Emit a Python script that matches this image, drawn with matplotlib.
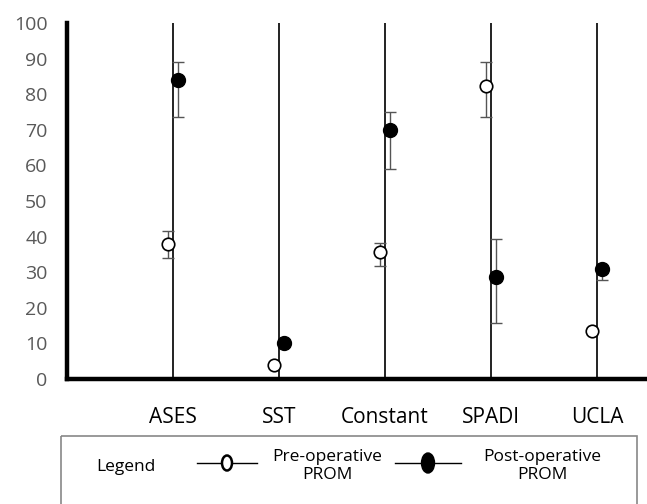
import matplotlib
matplotlib.use("Agg")

import numpy as np
import matplotlib.pyplot as plt
from matplotlib.patches import Rectangle, Ellipse

plt.rcParams["font.family"] = ["Open Sans", "DejaVu Sans"]

# scores
categories = ["ASES", "SST", "Constant", "SPADI", "UCLA"]
pre_mean = [37.8, 4.0, 35.8, 82.3, 13.6]
pre_low = [34.0, 4.0, 31.8, 73.5, 13.1]
pre_high = [41.6, 4.0, 38.3, 89.1, 14.1]
post_mean = [84.0, 10.2, 70.0, 28.7, 30.8]
post_low = [73.6, 10.2, 59.0, 15.8, 27.8]
post_high = [89.0, 10.2, 75.0, 39.3, 30.8]
y_ticks = [0, 10, 20, 30, 40, 50, 60, 70, 80, 90, 100]

fig = plt.figure(figsize=(6.47, 5.04), dpi=100)
ax = fig.add_axes([67 / 647, 125 / 504, 580 / 647, 356 / 504])

x = np.arange(1, len(categories) + 1)
off = 0.05
err_kw = dict(ecolor="#555555", elinewidth=1.0, capsize=4.5, capthick=1.0, zorder=3)

for xi in x:
    ax.axvline(xi, color="#222222", linewidth=1.4, zorder=1)

pre = np.array(pre_mean)
post = np.array(post_mean)
ax.errorbar(x - off, pre, yerr=[pre - np.array(pre_low), np.array(pre_high) - pre],
            fmt="none", **err_kw)
ax.errorbar(x + off, post, yerr=[post - np.array(post_low), np.array(post_high) - post],
            fmt="none", **err_kw)
ax.plot(x - off, pre, "o", ms=9, mfc="white", mec="black", mew=1.2, ls="none", zorder=4)
ax.plot(x + off, post, "o", ms=10, mfc="black", mec="black", ls="none", zorder=4)

ax.set_xlim(0, 5.47)
ax.set_ylim(0, 100)
ax.set_yticks(y_ticks)
ax.set_yticklabels([str(t) for t in y_ticks], color="#595959", fontsize=14)
ax.set_xticks(x)
ax.set_xticklabels(categories, fontsize=15, color="black")
ax.tick_params(axis="both", length=0)
ax.tick_params(axis="x", pad=20)
ax.tick_params(axis="y", pad=14)
ax.spines["top"].set_visible(False)
ax.spines["right"].set_visible(False)
ax.spines["left"].set_linewidth(3.2)
ax.spines["bottom"].set_linewidth(3.2)
ax.spines["left"].set_color("black")
ax.spines["bottom"].set_color("black")

# legend box at the bottom (pixel coordinates)
lg = fig.add_axes([0, 0, 1, 1], facecolor="none")
lg.set_xlim(0, 647)
lg.set_ylim(504, 0)
lg.axis("off")
lg.add_patch(Rectangle((61, 436), 576, 90, fill=False, ec="#888888", lw=1.2))
lg.text(126, 467, "Legend", fontsize=12.5, ha="center", va="center")
lg.plot([197, 257], [463, 463], color="black", lw=1)
lg.add_patch(Ellipse((227, 463), 10, 15, fc="white", ec="black", lw=1.8, zorder=3))
lg.text(327, 466, "Pre-operative\nPROM", fontsize=12.5, ha="center", va="center",
        linespacing=1.2)
lg.plot([395, 461], [463, 463], color="black", lw=1)
lg.add_patch(Ellipse((428, 463), 13, 20, fc="black", ec="black", zorder=3))
lg.text(542, 466, "Post-operative\nPROM", fontsize=12.5, ha="center", va="center",
        linespacing=1.2)

fig.savefig("out.png", dpi=100)
